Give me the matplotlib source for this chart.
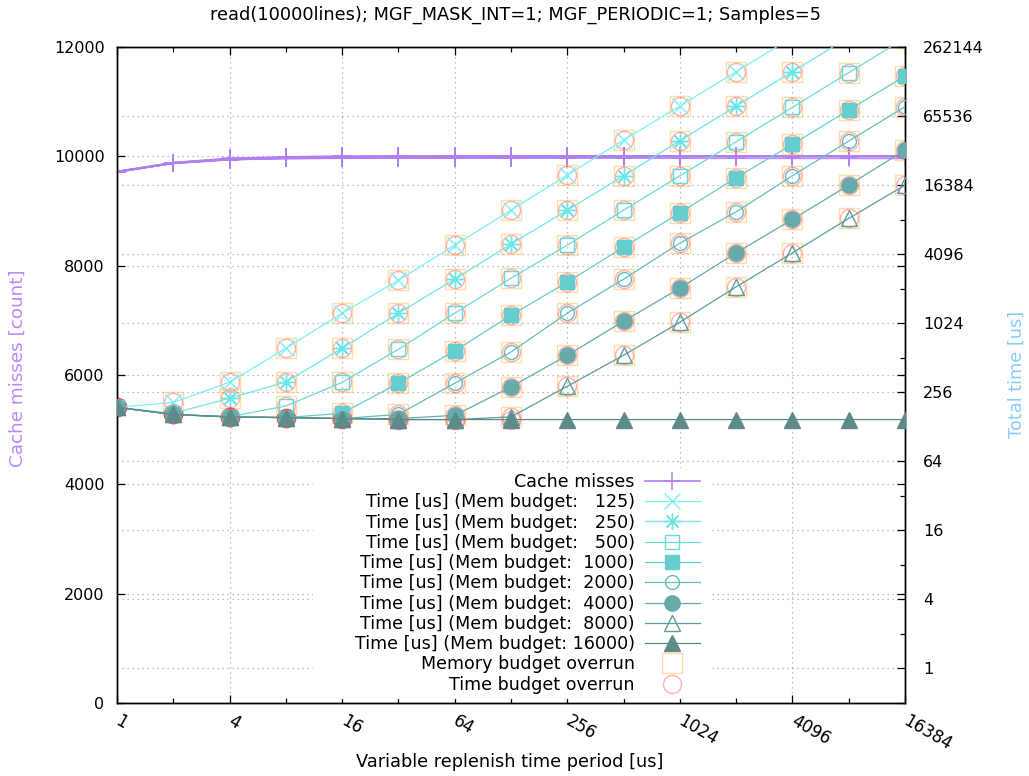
import numpy as np
import matplotlib
matplotlib.use('Agg')
import matplotlib.pyplot as plt
from matplotlib.lines import Line2D
from matplotlib.patches import Rectangle

# ---------------- data ----------------
periods = [1, 2, 4, 8, 16, 32, 64, 128, 256, 512, 1024, 2048, 4096, 8192, 16384]
budgets = [125, 250, 500, 1000, 2000, 4000, 8000, 16000]

# total time [us] per memory budget (right axis)
t125 = [189, 209, 313, 620, 1252, 2430, 4910, 9910, 20040, 40470, 80150, 159650, 319000, 638000, 1276000]
t250 = [189, 168, 227, 315, 620, 1252, 2478, 5010, 9910, 19760, 39910, 80150, 159650, 319000, 638000]
t500 = [189, 164, 157, 194, 313, 607, 1252, 2529, 4910, 9910, 19760, 39100, 78060, 156500, 313000]
t1000 = [189, 164, 156, 154, 168, 307, 587, 1202, 2333, 4716, 9397, 18990, 37120, 73940, 146400]
t2000 = [189, 164, 156, 154, 151, 164, 307, 575, 1252, 2478, 5111, 9570, 19760, 39650, 79030]
t4000 = [189, 164, 156, 154, 151, 151, 161, 285, 538, 1066, 2068, 4206, 8226, 16384, 33090]
t8000 = [189, 164, 156, 154, 151, 148, 148, 156, 289, 538, 1045, 2124, 4206, 8390, 16384]
t16000 = [189, 164, 156, 154, 151, 148, 148, 148, 148, 148, 148, 148, 148, 148, 148]

# cache misses per memory budget (left axis)
cm125 = [9720, 9885, 9962, 9988, 10002, 10004, 10005, 10005, 10005, 10005, 10004, 10005, 10005, 10005, 10005]
cm250 = [9718, 9882, 9958, 9984, 9998, 10002, 10004, 10004, 10004, 10004, 10004, 10004, 10004, 10004, 10004]
cm500 = [9722, 9880, 9955, 9978, 9990, 9998, 10003, 10003, 10004, 10004, 10004, 10004, 10004, 10004, 10004]
cm1000 = [9720, 9878, 9950, 9972, 9982, 9990, 9998, 10002, 10003, 10003, 10003, 10003, 10003, 10003, 10003]
cm2000 = [9716, 9876, 9946, 9968, 9976, 9980, 9985, 9995, 10000, 10002, 10002, 10002, 10002, 10002, 10002]
cm4000 = [9715, 9875, 9944, 9965, 9972, 9975, 9976, 9980, 9990, 9998, 10000, 10001, 10001, 10001, 10001]
cm8000 = [9714, 9874, 9942, 9963, 9969, 9971, 9972, 9973, 9975, 9985, 9995, 9999, 10000, 10000, 10000]
cm16000 = [9713, 9873, 9940, 9961, 9966, 9968, 9968, 9968, 9968, 9968, 9966, 9965, 9964, 9963, 9962]

# first period index at which the memory budget is overrun (None = never)
mem_overrun_from = [1, 2, 3, 4, 5, 6, 7, None]

x_ticks = [1, 4, 16, 64, 256, 1024, 4096, 16384]
x_minor = [2, 8, 32, 128, 512, 2048, 8192]
y_ticks = [0, 2000, 4000, 6000, 8000, 10000, 12000]
y2_ticks = [1, 4, 16, 64, 256, 1024, 4096, 16384, 65536, 262144]
y2_minor = [2, 8, 32, 128, 512, 2048, 8192, 32768, 131072]

title = "read(10000lines); MGF_MASK_INT=1; MGF_PERIODIC=1; Samples=5"

times = [t125, t250, t500, t1000, t2000, t4000, t8000, t16000]
misses = [cm125, cm250, cm500, cm1000, cm2000, cm4000, cm8000, cm16000]

# ---------------- style ----------------
purple = '#b07ff5'
colors = ['#7af2f2', '#6ee6e6', '#6ad9d9', '#66cccc', '#66bcbc', '#66aaaa', '#5f9c9c', '#5f8a8a']
markers = ['x', (8, 2, 0), 's', 's', 'o', 'o', '^', '^']
filled = [True, True, False, True, False, True, False, True]
msizes = [11, 12, 10, 10.5, 10, 11, 11, 11]
FS = 11.5
FL = 12.6   # legend
FT = 12.8   # title / axis labels

fig = plt.figure(figsize=(10.29, 7.76), dpi=100)
W, H = 1029, 776
ax = fig.add_axes([117 / W, 73 / H, 788 / W, 656 / H])
ax2 = ax.twinx()

ax.set_xscale('log', base=2)
ax.set_xlim(1, 16384)
ax.set_ylim(0, 12000)
ax2.set_yscale('log', base=2)
ax2.set_ylim(0.5, 262144)

gridkw = dict(color='#a8a8a8', linestyle=(0, (1, 3)), linewidth=0.9)

# cache misses
for i, cm in enumerate(misses):
    ax.plot(periods, cm, color=purple, lw=1.3, marker='+', ms=13, mew=1.1,
            alpha=0.85, zorder=3, clip_on=True)

# overrun markers (time series axis)
for k, t in enumerate(times):
    st = mem_overrun_from[k]
    if st is not None:
        ax2.plot(periods[st:], t[st:], ls='none', marker='s', ms=14.5,
                 mfc='none', mec='#ffc060', mew=1.0, alpha=0.55, zorder=2)
    tx = [p for p, v in zip(periods, t) if v >= p]
    ty = [v for p, v in zip(periods, t) if v >= p]
    ax2.plot(tx, ty, ls='none', marker='o', ms=13, mfc='none',
             mec='#ff4040', mew=1.0, alpha=0.4, zorder=2)

# time series
for k, t in enumerate(times):
    ax2.plot(periods, t, color=colors[k], lw=0.9, marker=markers[k],
             ms=msizes[k], mew=1.0,
             mfc=colors[k] if filled[k] else 'none', mec=colors[k], zorder=4)

# ---------------- axes / ticks ----------------
ax.set_xticks(x_ticks)
ax.set_xticklabels([str(v) for v in x_ticks])
ax.set_xticks(x_minor, minor=True)
ax.set_xticklabels([], minor=True)
ax.set_yticks(y_ticks)
ax.set_yticklabels([str(v) for v in y_ticks])
ax.yaxis.set_minor_locator(matplotlib.ticker.NullLocator())
ax.tick_params(axis='x', which='major', direction='in', length=6, width=0.9,
               top=True, labelsize=12, pad=12)
ax.tick_params(axis='x', which='minor', direction='in', length=3.5, width=0.9, top=True)
ax.tick_params(axis='y', which='major', direction='in', length=6, width=0.9,
               right=True, labelsize=FS, pad=9)
for lab in ax.get_xticklabels():
    lab.set_rotation(-30)
    lab.set_ha('left')
    lab.set_va('center')
    lab.set_rotation_mode('anchor')

ax2.set_yticks(y2_ticks)
ax2.set_yticklabels([str(v) for v in y2_ticks])
ax2.set_yticks(y2_minor, minor=True)
ax2.set_yticklabels([], minor=True)
ax2.tick_params(axis='y', which='major', direction='in', length=6, width=0.9,
                labelsize=FS, pad=13)
ax2.tick_params(axis='y', which='minor', direction='in', length=3.5, width=0.9)

ax.grid(True, which='major', axis='both', **gridkw)
ax2.grid(True, which='major', axis='y', **gridkw)
ax.set_axisbelow(True)
for sp in ax.spines.values():
    sp.set_linewidth(1.0)
for sp in ax2.spines.values():
    sp.set_linewidth(1.0)

# labels
fig.text(516 / W, 1 - 15 / H, title, ha='center', va='center', fontsize=FT)
fig.text(510 / W, 1 - 762 / H, 'Variable replenish time period [us]', ha='center',
         va='center', fontsize=FT)
fig.text(18 / W, 1 - 368 / H, 'Cache misses [count]', ha='center', va='center',
         rotation=90, fontsize=13.2, color='#bb88f8')
fig.text(1017 / W, 1 - 374 / H, 'Total time [us]', ha='center', va='center',
         rotation=90, fontsize=FT, color='#87cefa')

# white key area (covers grid like the gnuplot key box)
ax2.add_patch(Rectangle((313 / W, (H - 699) / H), (711 - 313) / W, (699 - 470) / H,
                        transform=fig.transFigure, facecolor='white',
                        edgecolor='none', zorder=9))

# legend
handles = [Line2D([], [], color=purple, lw=1.2, marker='+', ms=13, mew=1.1,
                  label='Cache misses')]
for k, b in enumerate(budgets):
    handles.append(Line2D([], [], color=colors[k], lw=0.9, marker=markers[k],
                          ms=msizes[k], mew=1.0,
                          mfc=colors[k] if filled[k] else 'none', mec=colors[k],
                          label='Time [us] (Mem budget: %5d)' % b))
handles.append(Line2D([], [], ls='none', marker='s', ms=14.5, mfc='none',
                      mec='#ffd9a8', mew=1.0, label='Memory budget overrun'))
handles.append(Line2D([], [], ls='none', marker='o', ms=13, mfc='none',
                      mec='#ffb3b3', mew=1.0, label='Time budget overrun'))
leg = ax2.legend(handles=handles, markerfirst=False, loc='lower right',
                 bbox_to_anchor=(705 / W, 77 / H), bbox_transform=fig.transFigure,
                 frameon=True, fancybox=False, edgecolor='none', facecolor='white',
                 framealpha=1, fontsize=FL, handlelength=3.15, handletextpad=0.57,
                 labelspacing=0.13, borderpad=0.3, borderaxespad=0)
leg.set_zorder(10)

fig.savefig('out.png', dpi=100)
